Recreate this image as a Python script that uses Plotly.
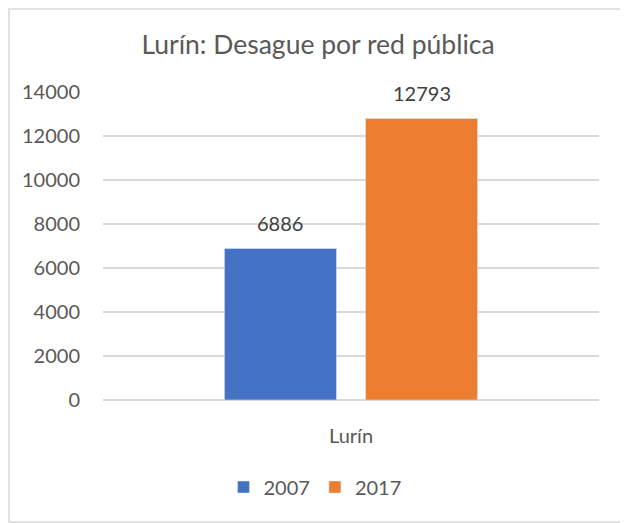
import plotly.graph_objects as go

categories = ["Lurín"]
years = ["2007", "2017"]
values_2007 = [6886]
values_2017 = [12793]
colors = ["#4472C4", "#ED7D31"]
y_ticks = [0, 2000, 4000, 6000, 8000, 10000, 12000, 14000]
y_ticklabels = ["0", "2000", "4000", "6000", "8000", "10000", "12000", "14000"]

# page has an 8px body margin; figure sized to fit the 628x523 window
W, H = 620, 515
L, R, T, B = 95, 29, 84, 123
pw, ph = W - L - R, H - T - B

FONT = "Lato"
TXT = "#595959"

BARGAP = 0.431
GROUPGAP = 0.206

fig = go.Figure()
series = [values_2007, values_2017]
for name, vals, col in zip(years, series, colors):
    fig.add_trace(go.Bar(
        x=categories, y=vals, name=name, marker_color=col,
    ))

# data labels above each bar
slot = pw * (1 - BARGAP) / len(series)
annotations = []
for i, vals in enumerate(series):
    off = (i - (len(series) - 1) / 2) * slot
    for c, v in zip(categories, vals):
        annotations.append(dict(
            x=c, y=v, xref="x", yref="y", text=str(v), showarrow=False,
            xshift=off, yshift=26, yanchor="middle",
            font=dict(family=FONT, size=20, color="#404040"),
        ))

def px_x(p):
    return (p - L) / pw

def px_y(p):
    return (H - B - p) / ph

fig.update_layout(
    width=W, height=H,
    margin=dict(l=L, r=R, t=T, b=B),
    paper_bgcolor="white", plot_bgcolor="white",
    barmode="group", bargap=BARGAP, bargroupgap=GROUPGAP,
    title=dict(text="Lurín: Desague por red pública", x=0.5, xanchor="center",
               y=1 - 37 / H, yanchor="middle",
               font=dict(family=FONT, size=26.5, color=TXT)),
    font=dict(family=FONT, size=20, color=TXT),
    xaxis=dict(showgrid=False, showline=False, ticks="", automargin=False,
               ticklabelstandoff=22,
               tickfont=dict(family=FONT, size=20, color=TXT)),
    yaxis=dict(range=[0, 14000], tickvals=y_ticks, ticktext=y_ticklabels,
               showgrid=True, automargin=False,
               gridcolor="#D9D9D9", gridwidth=1.5, zeroline=True,
               zerolinecolor="#D9D9D9", zerolinewidth=1.5, showline=False,
               ticks="", ticklabelstandoff=22,
               tickfont=dict(family=FONT, size=20, color=TXT)),
    legend=dict(orientation="h", x=px_x(307), xanchor="center",
                y=px_y(479), yanchor="middle",
                font=dict(family=FONT, size=20, color=TXT),
                itemwidth=30),
    showlegend=True,
    annotations=annotations,
    shapes=[dict(type="rect", xref="paper", yref="paper",
                 x0=px_x(1), x1=px_x(W - 1), y0=px_y(H - 1), y1=px_y(1),
                 line=dict(color="#D9D9D9", width=1.5), layer="below")],
)

fig.write_html("out.html")
